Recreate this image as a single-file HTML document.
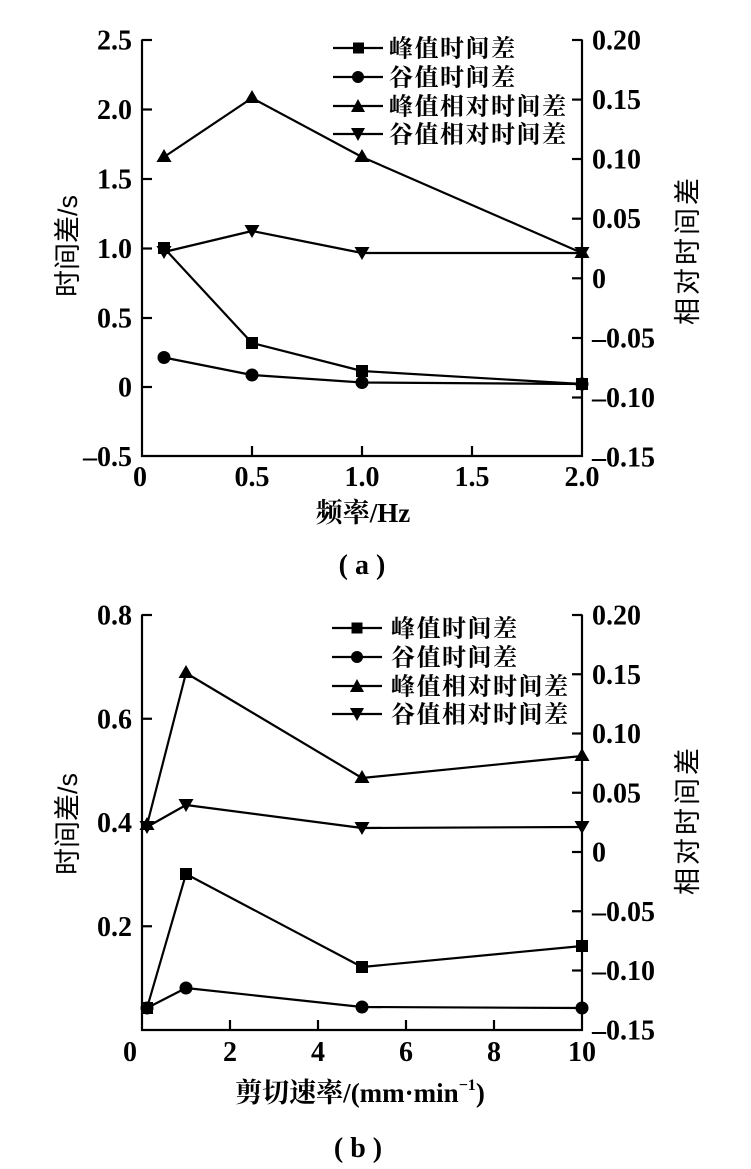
<!DOCTYPE html>
<html>
<head>
<meta charset="utf-8">
<style>
  html,body{margin:0;padding:0;background:#fff;}
  svg{display:block;}
  .num{font-family:"Liberation Serif","Noto Serif CJK SC",serif;font-weight:bold;font-size:28px;fill:#000;}
  .cjk{font-family:"Liberation Serif","Noto Serif CJK SC",serif;font-weight:bold;fill:#000;}
  .cjks{font-family:"Liberation Sans","Noto Sans CJK SC",sans-serif;fill:#000;}
</style>
</head>
<body>
<svg width="751" height="1169" viewBox="0 0 751 1169" xmlns="http://www.w3.org/2000/svg">
  <rect width="751" height="1169" fill="#fff"/>

  <!-- ================= TOP CHART (a) ================= -->
  <g stroke="#000" stroke-width="2.2" fill="none">
    <!-- axes -->
    <polyline points="142,39.5 142,456 582,456 582,39.5"/>
    <!-- left axis end tick -->
    <line x1="142" y1="40" x2="152" y2="40"/>
    <line x1="142" y1="109.5" x2="152" y2="109.5"/>
    <line x1="142" y1="179" x2="152" y2="179"/>
    <line x1="142" y1="248.5" x2="152" y2="248.5"/>
    <line x1="142" y1="318" x2="152" y2="318"/>
    <line x1="142" y1="387" x2="152" y2="387"/>
    <!-- right ticks -->
    <line x1="572" y1="40" x2="582" y2="40"/>
    <line x1="572" y1="99.6" x2="582" y2="99.6"/>
    <line x1="572" y1="159" x2="582" y2="159"/>
    <line x1="572" y1="218.7" x2="582" y2="218.7"/>
    <line x1="572" y1="278.3" x2="582" y2="278.3"/>
    <line x1="572" y1="338" x2="582" y2="338"/>
    <line x1="572" y1="397.5" x2="582" y2="397.5"/>
    <!-- x ticks -->
    <line x1="252" y1="456" x2="252" y2="446"/>
    <line x1="362" y1="456" x2="362" y2="446"/>
    <line x1="472" y1="456" x2="472" y2="446"/>
  </g>

  <!-- series lines top -->
  <g stroke="#000" stroke-width="2.2" fill="none" stroke-linejoin="round">
    <polyline points="164,248 252,343 362,371 582,384"/>
    <polyline points="164,357.5 252,375 362,382.5 582,384"/>
    <polyline points="164,157 252,98 362,157 582,253"/>
    <polyline points="164,252 252,231 362,253 582,253"/>
  </g>
  <!-- markers top -->
  <g fill="#000">
    <!-- squares -->
    <rect x="158" y="242" width="12" height="12"/>
    <rect x="246" y="337" width="12" height="12"/>
    <rect x="356" y="365" width="12" height="12"/>
    <rect x="576" y="378" width="12" height="12"/>
    <!-- circles -->
    <circle cx="164" cy="357.5" r="6.5"/>
    <circle cx="252" cy="375" r="6.5"/>
    <circle cx="362" cy="382.5" r="6.5"/>
    <circle cx="582" cy="384" r="6.5"/>
    <!-- up triangles -->
    <polygon points="164,149 171.5,162 156.5,162"/>
    <polygon points="252,90 259.5,103 244.5,103"/>
    <polygon points="362,149 369.5,162 354.5,162"/>
    <polygon points="582,245 589.5,258 574.5,258"/>
    <!-- down triangles -->
    <polygon points="156.5,246 171.5,246 164,259"/>
    <polygon points="244.5,225 259.5,225 252,238"/>
    <polygon points="354.5,247 369.5,247 362,260"/>
    <polygon points="574.5,247 589.5,247 582,260"/>
  </g>

  <!-- top left tick labels -->
  <g class="num" text-anchor="end">
    <text x="132" y="49.5">2.5</text>
    <text x="132" y="119">2.0</text>
    <text x="132" y="188.5">1.5</text>
    <text x="132" y="258">1.0</text>
    <text x="132" y="327.5">0.5</text>
    <text x="132" y="396.5">0</text>
    <text x="132" y="466">–0.5</text>
  </g>
  <!-- top right tick labels -->
  <g class="num" text-anchor="start">
    <text x="592" y="49.5">0.20</text>
    <text x="592" y="109">0.15</text>
    <text x="592" y="168.5">0.10</text>
    <text x="592" y="228">0.05</text>
    <text x="592" y="287.8">0</text>
    <text x="592" y="347.5">–0.05</text>
    <text x="592" y="407">–0.10</text>
    <text x="592" y="466.5">–0.15</text>
  </g>
  <!-- top x labels -->
  <g class="num" text-anchor="middle">
    <text x="140" y="486">0</text>
    <text x="252" y="486">0.5</text>
    <text x="362" y="486">1.0</text>
    <text x="472" y="486">1.5</text>
    <text x="582" y="486">2.0</text>
  </g>

  <!-- top legend -->
  <g stroke="#000" stroke-width="2.2">
    <line x1="333" y1="48" x2="383" y2="48"/>
    <line x1="333" y1="77" x2="383" y2="77"/>
    <line x1="333" y1="106" x2="383" y2="106"/>
    <line x1="333" y1="134" x2="383" y2="134"/>
  </g>
  <g fill="#000">
    <rect x="353" y="42.5" width="11" height="11"/>
    <circle cx="358" cy="77" r="6"/>
    <polygon points="358,99 365,112 351,112"/>
    <polygon points="351,128 365,128 358,141"/>
  </g>
  <g class="cjk" font-size="24" letter-spacing="1.5">
    <text x="389" y="56.5">峰值时间差</text>
    <text x="389" y="85.5">谷值时间差</text>
    <text x="389" y="114.5">峰值相对时间差</text>
    <text x="389" y="142.5">谷值相对时间差</text>
  </g>

  <!-- top axis titles -->
  <text class="cjks" font-size="27" text-anchor="middle" transform="translate(77,246) rotate(-90)">时间差/s</text>
  <text class="cjks" font-size="27" letter-spacing="3" text-anchor="middle" transform="translate(697,250) rotate(-90)">相对时间差</text>
  <text class="cjk" font-size="27" text-anchor="middle" x="363" y="522">频率/Hz</text>
  <text class="cjk" font-size="28" text-anchor="middle" x="362" y="574" xml:space="preserve">( a )</text>

  <!-- ================= BOTTOM CHART (b) ================= -->
  <g stroke="#000" stroke-width="2.2" fill="none">
    <polyline points="142,614.5 142,1030 582,1030 582,614.5"/>
    <line x1="142" y1="615" x2="152" y2="615"/>
    <line x1="142" y1="718.75" x2="152" y2="718.75"/>
    <line x1="142" y1="822.5" x2="152" y2="822.5"/>
    <line x1="142" y1="926.25" x2="152" y2="926.25"/>
    <line x1="572" y1="615" x2="582" y2="615"/>
    <line x1="572" y1="674.25" x2="582" y2="674.25"/>
    <line x1="572" y1="733.5" x2="582" y2="733.5"/>
    <line x1="572" y1="792.75" x2="582" y2="792.75"/>
    <line x1="572" y1="852" x2="582" y2="852"/>
    <line x1="572" y1="911.25" x2="582" y2="911.25"/>
    <line x1="572" y1="970.5" x2="582" y2="970.5"/>
    <line x1="230" y1="1030" x2="230" y2="1020"/>
    <line x1="318" y1="1030" x2="318" y2="1020"/>
    <line x1="406" y1="1030" x2="406" y2="1020"/>
    <line x1="494" y1="1030" x2="494" y2="1020"/>
  </g>

  <g stroke="#000" stroke-width="2.2" fill="none" stroke-linejoin="round">
    <polyline points="147,1008 186,874 362,967 582,946"/>
    <polyline points="147,1008 186,988 362,1007 582,1008"/>
    <polyline points="147,825 186,673 362,778 582,756"/>
    <polyline points="147,827 186,805 362,828 582,827"/>
  </g>
  <g fill="#000">
    <rect x="141" y="1002" width="12" height="12"/>
    <rect x="180" y="868" width="12" height="12"/>
    <rect x="356" y="961" width="12" height="12"/>
    <rect x="576" y="940" width="12" height="12"/>
    <circle cx="147" cy="1008" r="6.5"/>
    <circle cx="186" cy="988" r="6.5"/>
    <circle cx="362" cy="1007" r="6.5"/>
    <circle cx="582" cy="1008" r="6.5"/>
    <polygon points="147,817 154.5,830 139.5,830"/>
    <polygon points="186,665 193.5,678 178.5,678"/>
    <polygon points="362,770 369.5,783 354.5,783"/>
    <polygon points="582,748 589.5,761 574.5,761"/>
    <polygon points="139.5,821 154.5,821 147,834"/>
    <polygon points="178.5,799 193.5,799 186,812"/>
    <polygon points="354.5,822 369.5,822 362,835"/>
    <polygon points="574.5,821 589.5,821 582,834"/>
  </g>

  <g class="num" text-anchor="end">
    <text x="132" y="624.5">0.8</text>
    <text x="132" y="728.25">0.6</text>
    <text x="132" y="832">0.4</text>
    <text x="132" y="935.75">0.2</text>
  </g>
  <g class="num" text-anchor="start">
    <text x="592" y="624.5">0.20</text>
    <text x="592" y="683.75">0.15</text>
    <text x="592" y="743">0.10</text>
    <text x="592" y="802.25">0.05</text>
    <text x="592" y="861.5">0</text>
    <text x="592" y="920.75">–0.05</text>
    <text x="592" y="980">–0.10</text>
    <text x="592" y="1039.5">–0.15</text>
  </g>
  <g class="num" text-anchor="middle">
    <text x="130" y="1061">0</text>
    <text x="230" y="1061">2</text>
    <text x="318" y="1061">4</text>
    <text x="406" y="1061">6</text>
    <text x="494" y="1061">8</text>
    <text x="582" y="1061">10</text>
  </g>

  <!-- bottom legend -->
  <g stroke="#000" stroke-width="2.2">
    <line x1="332" y1="628" x2="382" y2="628"/>
    <line x1="332" y1="657" x2="382" y2="657"/>
    <line x1="332" y1="686" x2="382" y2="686"/>
    <line x1="332" y1="714" x2="382" y2="714"/>
  </g>
  <g fill="#000">
    <rect x="351.5" y="622.5" width="11" height="11"/>
    <circle cx="357" cy="657" r="6"/>
    <polygon points="357,679 364,692 350,692"/>
    <polygon points="350,708 364,708 357,721"/>
  </g>
  <g class="cjk" font-size="24" letter-spacing="1.5">
    <text x="391" y="636.5">峰值时间差</text>
    <text x="391" y="665.5">谷值时间差</text>
    <text x="391" y="694.5">峰值相对时间差</text>
    <text x="391" y="722.5">谷值相对时间差</text>
  </g>

  <text class="cjks" font-size="27" text-anchor="middle" transform="translate(77,824) rotate(-90)">时间差/s</text>
  <text class="cjks" font-size="27" letter-spacing="3" text-anchor="middle" transform="translate(697,820) rotate(-90)">相对时间差</text>
  <text class="cjk" font-size="27" text-anchor="middle" x="360" y="1102">剪切速率/(mm·min<tspan font-size="16" dy="-12">−1</tspan><tspan dy="12">)</tspan></text>
  <text class="cjk" font-size="28" text-anchor="middle" x="358" y="1157" xml:space="preserve">( b )</text>
</svg>
</body>
</html>
